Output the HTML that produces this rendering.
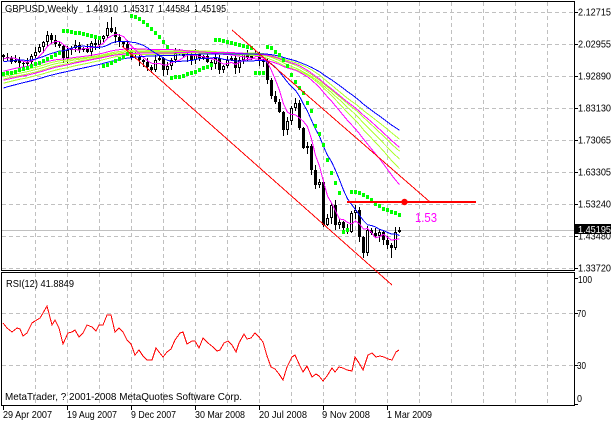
<!DOCTYPE html>
<html><head><meta charset="utf-8">
<style>
html,body{margin:0;padding:0;background:#fff;overflow:hidden}
svg{display:block}
text{font-family:"Liberation Sans",Arial,sans-serif;font-size:10.5px;fill:#000}
</style></head><body>
<svg id="s" width="611" height="422" viewBox="0 0 611 422" xmlns="http://www.w3.org/2000/svg" shape-rendering="crispEdges">
<rect width="611" height="422" fill="#fff"/>
<g id="grid" stroke="#c0c0c0" stroke-width="1" stroke-dasharray="4 3" fill="none"></g>
<line x1="2" y1="230.5" x2="574" y2="230.5" stroke="#c0c0c0"/>
<g id="chart"></g>
<!-- borders -->
<rect x="1.5" y="1.5" width="573" height="269" fill="none" stroke="#000"/>
<rect x="1.5" y="272.5" width="573" height="133" fill="none" stroke="#000"/>
<g id="ticks" stroke="#000"></g>
<!-- title -->
<text x="5" y="12" textLength="73" lengthAdjust="spacingAndGlyphs">GBPUSD,Weekly</text>
<text x="86" y="12" textLength="32" lengthAdjust="spacingAndGlyphs">1.44910</text>
<text x="123" y="12" textLength="31" lengthAdjust="spacingAndGlyphs">1.45317</text>
<text x="158" y="12" textLength="32" lengthAdjust="spacingAndGlyphs">1.44584</text>
<text x="194" y="12" textLength="32" lengthAdjust="spacingAndGlyphs">1.45195</text>
<!-- price axis -->
<text x="578" y="15.5" textLength="33" lengthAdjust="spacingAndGlyphs">2.12715</text>
<text x="578" y="47.5" textLength="33" lengthAdjust="spacingAndGlyphs">2.02955</text>
<text x="578" y="79.5" textLength="33" lengthAdjust="spacingAndGlyphs">1.92890</text>
<text x="578" y="111.5" textLength="33" lengthAdjust="spacingAndGlyphs">1.83130</text>
<text x="578" y="143.5" textLength="33" lengthAdjust="spacingAndGlyphs">1.73065</text>
<text x="578" y="175.5" textLength="33" lengthAdjust="spacingAndGlyphs">1.63305</text>
<text x="578" y="207.5" textLength="33" lengthAdjust="spacingAndGlyphs">1.53240</text>
<text x="578" y="239.5" textLength="33" lengthAdjust="spacingAndGlyphs">1.43480</text>
<text x="578" y="271.5" textLength="33" lengthAdjust="spacingAndGlyphs">1.33720</text>
<rect x="575" y="224" width="36" height="10" fill="#000"/>
<text x="578" y="233" textLength="33" lengthAdjust="spacingAndGlyphs" style="fill:#fff">1.45195</text>
<!-- RSI axis -->
<text x="578" y="283" textLength="14" lengthAdjust="spacingAndGlyphs">100</text>
<text x="577" y="317" textLength="9" lengthAdjust="spacingAndGlyphs">70</text>
<text x="577" y="369" textLength="9" lengthAdjust="spacingAndGlyphs">30</text>
<text x="577" y="402" textLength="5" lengthAdjust="spacingAndGlyphs">0</text>
<text x="6" y="287" textLength="68" lengthAdjust="spacingAndGlyphs">RSI(12) 41.8849</text>
<text x="5" y="400" textLength="237" lengthAdjust="spacingAndGlyphs">MetaTrader, ? 2001-2008 MetaQuotes Software Corp.</text>
<!-- time axis -->
<text x="3" y="418" textLength="49" lengthAdjust="spacingAndGlyphs">29 Apr 2007</text>
<text x="67" y="418" textLength="50" lengthAdjust="spacingAndGlyphs">19 Aug 2007</text>
<text x="131" y="418" textLength="45" lengthAdjust="spacingAndGlyphs">9 Dec 2007</text>
<text x="195" y="418" textLength="50" lengthAdjust="spacingAndGlyphs">30 Mar 2008</text>
<text x="259" y="418" textLength="48" lengthAdjust="spacingAndGlyphs">20 Jul 2008</text>
<text x="322" y="418" textLength="48" lengthAdjust="spacingAndGlyphs">9 Nov 2008</text>
<text x="387" y="418" textLength="45" lengthAdjust="spacingAndGlyphs">1 Mar 2009</text>
<g id="objs"></g>
<text x="415" y="222" textLength="22" lengthAdjust="spacingAndGlyphs" style="fill:#ff00ff;font-size:13px">1.53</text>
</svg>
<script>
(function(){
var NS='http://www.w3.org/2000/svg';
function el(tag,a,p){var e=document.createElementNS(NS,tag);for(var k in a)e.setAttribute(k,a[k]);p.appendChild(e);return e;}
var grid=document.getElementById('grid'),chart=document.getElementById('chart'),ticks=document.getElementById('ticks'),objs=document.getElementById('objs');
var i,k;
for(k=0;k<17;k++){var gx=35.5+32*k;
 el('line',{x1:gx,x2:gx,y1:2,y2:270},grid);
 el('line',{x1:gx,x2:gx,y1:273,y2:405},grid);}
for(k=0;k<9;k++){var gy=12.5+32*k; el('line',{x1:2,x2:574,y1:gy,y2:gy},grid);}
el('line',{x1:2,x2:574,y1:313.5,y2:313.5},grid);
el('line',{x1:2,x2:574,y1:365.5,y2:365.5},grid);
for(k=0;k<9;k++){var ty=12.5+32*k; el('line',{x1:575,x2:578,y1:ty,y2:ty},ticks);}
[278.5,313.5,365.5,404.5].forEach(function(ty){el('line',{x1:575,x2:578,y1:ty,y2:ty},ticks);});
[3,67,131,195,259,323,387].forEach(function(tx){el('line',{x1:tx+0.5,x2:tx+0.5,y1:405,y2:410},ticks);});

var C=[57,58,62,60,63,64,62,56,52,47,
42,35,40,44,46,58,50,48,45,50,
48,52,43,45,39,36,28,32,37,42,
44,50,58,57,60,62,67,70,60,58,
70,66,60,53,52,56,55,60,54,58,
56,62,64,58,70,66,60,58,68,60,
54,58,56,55,60,62,80,96,102,112,
130,121,108,103,128,148,146,170,185,182,
225,218,205,225,222,228,232,213,210,237,
253,230,233,236,232,240,245,248,232,230];
var N=C.length,O=[],H=[],L=[];
for(i=0;i<N;i++){
 O[i]= i==0?55:C[i-1];
 var top=Math.min(O[i],C[i]),bot=Math.max(O[i],C[i]);
 H[i]=top-1-((i*13+5)%5);
 L[i]=bot+1+((i*29+3)%6);
}
H[27]=17;H[11]=31;L[15]=63;L[90]=258;L[97]=258;H[26]=22;
var pts=[[-62,135],[-50,108],[-40,100],[-30,90],[-22,68],[-10,66],[-1,58]];
function pre(x){for(var j=0;j<pts.length-1;j++){if(x>=pts[j][0]&&x<=pts[j+1][0]){var t=(x-pts[j][0])/(pts[j+1][0]-pts[j][0]);return pts[j][1]+t*(pts[j+1][1]-pts[j][1]);}}return 58;}
var all=[];for(k=-62;k<0;k++)all.push(pre(k)+3*Math.sin(k*1.3));
all=all.concat(C);
function sma(p){var r=[];for(i=0;i<N;i++){var s=0;for(var j=0;j<p;j++)s+=all[62+i-j];r.push(s/p);}return r;}
for(i=0;i<N;i++){
 var x=2+4*i,o=O[i],c=C[i],t=Math.min(o,c),b=Math.max(o,c);
 el('line',{x1:x+1.5,x2:x+1.5,y1:H[i],y2:L[i],stroke:'#000'},chart);
 if(c>o) el('rect',{x:x,y:t,width:3,height:Math.max(1,b-t),fill:'#000'},chart);
 else if(c<o) el('rect',{x:x+0.5,y:t+0.5,width:2,height:Math.max(0,b-t-1),fill:'#fff',stroke:'#000'},chart);
 else el('line',{x1:x,x2:x+3,y1:t+0.5,y2:t+0.5,stroke:'#000'},chart);
}
function poly(arr,col){var s='';for(i=0;i<arr.length;i++)s+=(3.5+4*i)+','+arr[i].toFixed(1)+' ';el('polyline',{points:s,fill:'none',stroke:col,'stroke-width':1},chart);}
[[40,'#adff2f'],[44,'#adff2f'],[48,'#adff2f'],[55,'#adff2f']].forEach(function(m){poly(sma(m[0]),m[1]);});
[[5,'#ff00ff'],[35,'#ff00ff'],[50,'#ff00ff']].forEach(function(m){poly(sma(m[0]),m[1]);});
[[12,'#0000ff'],[62,'#0000ff']].forEach(function(m){poly(sma(m[0]),m[1]);});
var S=[];
for(i=0;i<=14;i++)S[i]=74-21*Math.pow(i/14,1.4);
for(i=15;i<=24;i++)S[i]=31+7*Math.pow((i-15)/9,1.3);
for(i=25;i<=31;i++)S[i]=66-12*Math.pow((i-25)/6,1.3);
for(i=32;i<=41;i++)S[i]=16+31*Math.pow((i-32)/9,1.5);
for(i=42;i<=52;i++)S[i]=78-13*Math.pow((i-42)/10,1.4);
for(i=53;i<=62;i++)S[i]=40+8*Math.pow((i-53)/9,1.3);
for(i=63;i<=65;i++)S[i]=73;
[47,48,52,55,60,66,75,82,88,93,103,111,126,134,145,160,173,183,193].forEach(function(v,j){S[66+j]=v;});
S[85]=232;S[86]=230;
[192,192,193,195,197,200,204,206,209,210,212,213,215].forEach(function(v,j){S[87+j]=v;});
for(i=0;i<N;i++){el('rect',{x:2+4*i,y:Math.round(S[i])-2,width:3,height:4,fill:'#00ff00'},chart);}
var R=[[3,323],[7,328],[12,332],[17,328],[20,329],[23,336],[27,333],[32,323],[35,321],[40,318],[43,313],[47,306],[52,325],[55,320],[59,328],[63,344],[68,333],[72,332],[75,330],[79,337],[83,333],[87,325],[92,327],[96,331],[99,325],[103,325],[107,315],[111,315],[115,332],[119,328],[123,332],[127,340],[131,344],[135,355],[139,350],[143,356],[147,360],[152,360],[156,348],[159,352],[163,357],[167,352],[171,349],[175,340],[180,333],[183,332],[187,344],[192,341],[195,341],[199,348],[203,338],[208,343],[213,347],[217,351],[220,350],[224,343],[228,341],[232,345],[236,352],[239,343],[244,334],[247,339],[251,338],[255,333],[259,337],[263,342],[267,356],[271,367],[275,369],[279,374],[283,380],[287,367],[292,357],[295,355],[300,366],[303,372],[307,366],[312,377],[316,374],[319,376],[323,381],[327,376],[332,368],[335,372],[339,367],[343,368],[347,370],[352,371],[355,357],[359,363],[363,370],[368,355],[372,353],[376,357],[380,356],[384,357],[388,359],[392,360],[396,352],[399,350]];
el('polyline',{points:R.map(function(p){return p.join(',');}).join(' '),fill:'none',stroke:'#ff0000'},chart);
el('line',{x1:232,y1:30,x2:430,y2:202,stroke:'#ff0000'},objs);
el('line',{x1:122,y1:46,x2:392,y2:285,stroke:'#ff0000'},objs);
el('line',{x1:347,y1:202,x2:476,y2:202,stroke:'#ff0000','stroke-width':2},objs);
el('circle',{cx:404.5,cy:202,r:3.2,fill:'#ff0000','shape-rendering':'geometricPrecision'},objs);
})();
</script>
</body></html>
